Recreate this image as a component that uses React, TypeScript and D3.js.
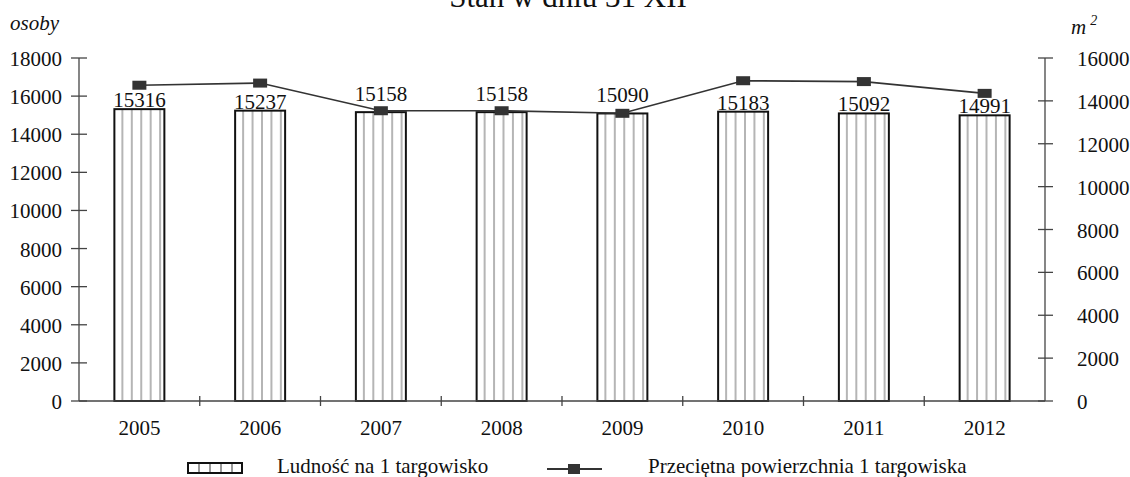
import React from "react";
import * as d3 from "d3";

const years = ["2005", "2006", "2007", "2008", "2009", "2010", "2011", "2012"];
const population = [15316, 15237, 15158, 15158, 15090, 15183, 15092, 14991];
const area = [14730, 14830, 13540, 13540, 13420, 14940, 14900, 14350];
const leftTicks = [0, 2000, 4000, 6000, 8000, 10000, 12000, 14000, 16000, 18000];
const rightTicks = [0, 2000, 4000, 6000, 8000, 10000, 12000, 14000, 16000];

const W = 1130;
const H = 477;
const FONT = "Liberation Serif, Times New Roman, serif";

const T = (props: any) => (
  <text fill="#111" {...props} style={{ fontFamily: FONT, ...(props.style || {}) }} />
);

export default function App() {
  const left = 79;
  const right = 1045;
  const top = 58;
  const bottom = 401;
  const x = d3.scaleBand<string>().domain(years).range([left, right]);
  const yL = d3.scaleLinear().domain([0, 18000]).range([bottom, top]);
  const yR = d3.scaleLinear().domain([0, 16000]).range([bottom, top]);
  const bw = x.bandwidth() * 0.414;
  const cx = (y: string) => (x(y) as number) + x.bandwidth() / 2;
  const line = d3
    .line<number>()
    .x((_, i) => cx(years[i]))
    .y((d) => yR(d));
  const axisColor = "#444";
  const fs = 21;

  return (
    <svg
      width={W}
      height={H}
      style={{ position: "absolute", left: 0, top: 0, background: "#fff", fontFamily: FONT }}
    >
      <rect width={W} height={H} fill="#fff" />
      {/* title */}
      <T x={568} y={7} textAnchor="middle" fontSize={31}>
        Stan w dniu 31 XII
      </T>
      {/* axis unit labels */}
      <T x={10} y={30} fontSize={fs} fontStyle="italic">
        osoby
      </T>
      <T x={1071} y={34} fontSize={fs} fontStyle="italic">
        m
        <tspan fontSize={14} dx={4} dy={-9}>
          2
        </tspan>
      </T>

      {/* bars */}
      {population.map((v, i) => {
        const x0 = cx(years[i]) - bw / 2;
        const y0 = yL(v);
        const h = bottom - y0;
        const n = 5;
        const sp = bw / 5.3;
        const my = yR(area[i]);
        const overlap = my > y0 - 18;
        const ly = overlap ? y0 - 11 : y0 - 2;
        return (
          <g key={years[i]}>
            <rect x={x0} y={y0} width={bw} height={h} fill="#fff" />
            {d3.range(n).map((k) => (
              <line
                key={k}
                x1={x0 + 8 + k * sp}
                x2={x0 + 8 + k * sp}
                y1={y0}
                y2={bottom}
                stroke="#b5b5b5"
                strokeWidth={2}
              />
            ))}
            <rect
              x={x0}
              y={y0}
              width={bw}
              height={h}
              fill="none"
              stroke="#111"
              strokeWidth={2}
            />
            <T x={cx(years[i])} y={ly} textAnchor="middle" fontSize={fs}>
              {v}
            </T>
          </g>
        );
      })}

      {/* left axis */}
      <line x1={left} x2={left} y1={top} y2={bottom} stroke={axisColor} strokeWidth={1.3} />
      {leftTicks.map((t) => (
        <g key={"l" + t}>
          <line x1={left - 8} x2={left + 8} y1={yL(t)} y2={yL(t)} stroke={axisColor} strokeWidth={1.3} />
          <T x={62} y={yL(t) + 8} textAnchor="end" fontSize={fs}>
            {t}
          </T>
        </g>
      ))}
      {/* right axis */}
      <line x1={right} x2={right} y1={top} y2={bottom} stroke={axisColor} strokeWidth={1.3} />
      {rightTicks.map((t) => (
        <g key={"r" + t}>
          <line x1={right - 7} x2={right + 8} y1={yR(t)} y2={yR(t)} stroke={axisColor} strokeWidth={1.3} />
          <T x={1077} y={yR(t) + 8} textAnchor="start" fontSize={fs}>
            {t}
          </T>
        </g>
      ))}
      {/* x axis */}
      <line x1={left} x2={right} y1={bottom} y2={bottom} stroke={axisColor} strokeWidth={1.3} />
      {years.slice(1).map((y) => (
        <line
          key={"xt" + y}
          x1={x(y) as number}
          x2={x(y) as number}
          y1={bottom - 5}
          y2={bottom + 5}
          stroke={axisColor}
          strokeWidth={1.3}
        />
      ))}
      {years.map((y) => (
        <T key={"xl" + y} x={cx(y)} y={435} textAnchor="middle" fontSize={fs}>
          {y}
        </T>
      ))}

      {/* line series */}
      <path d={line(area) || ""} fill="none" stroke="#333" strokeWidth={1.6} />
      {area.map((v, i) => (
        <rect
          key={"m" + i}
          x={cx(years[i]) - 7}
          y={yR(v) - 4.5}
          width={14}
          height={9}
          fill="#333"
        />
      ))}

      {/* legend */}
      <g>
        <rect x={188} y={463} width={54} height={10} fill="#fff" />
        {d3.range(4).map((k) => (
          <line
            key={k}
            x1={199 + k * 11}
            x2={199 + k * 11}
            y1={463}
            y2={473}
            stroke="#999"
            strokeWidth={2}
          />
        ))}
        <rect x={188} y={463} width={54} height={10} fill="none" stroke="#111" strokeWidth={2} />
        <T x={277} y={473} fontSize={fs}>
          Ludność na 1 targowisko
        </T>
        <line x1={547} x2={602} y1={469} y2={469} stroke="#333" strokeWidth={2} />
        <rect x={568} y={464} width={12} height={10} fill="#333" />
        <T x={648} y={473} fontSize={fs}>
          Przeciętna powierzchnia 1 targowiska
        </T>
      </g>
    </svg>
  );
}
